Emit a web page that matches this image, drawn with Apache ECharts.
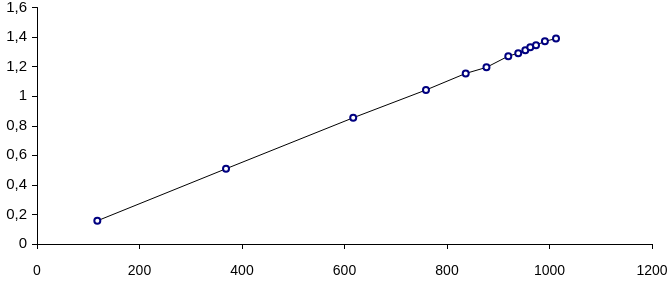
<!DOCTYPE html>
<html>
<head>
<meta charset="utf-8">
<script src="https://cdn.jsdelivr.net/npm/echarts@6/dist/echarts.min.js"></script>
<style>html,body{margin:0;padding:0;background:#fff;}#c{width:671px;height:285px;}</style>
</head>
<body>
<div id="c"></div>
<script>
const xValues = [117.7, 368.8, 617, 759, 836.5, 877, 919.6, 939, 952.8, 962.5, 973.7, 991, 1012.7];
const yValues = [0.157, 0.509, 0.854, 1.042, 1.154, 1.195, 1.271, 1.291, 1.311, 1.331, 1.345, 1.371, 1.390];
const xTicks = [0, 200, 400, 600, 800, 1000, 1200];
const yTicks = [0, 0.2, 0.4, 0.6, 0.8, 1, 1.2, 1.4, 1.6];

const data = xValues.map((x, i) => [x, yValues[i]]);
const chart = echarts.init(document.getElementById('c'), null, {renderer: 'canvas'});
const font = 'Liberation Sans';
chart.setOption({
  animation: false,
  backgroundColor: '#ffffff',
  grid: {left: 37, right: 19, top: 6, bottom: 41, containLabel: false},
  xAxis: {
    type: 'value', min: xTicks[0], max: xTicks[xTicks.length - 1], interval: 200,
    axisLine: {show: true, onZero: false, lineStyle: {color: '#000', width: 1}},
    axisTick: {show: true, length: 5, lineStyle: {color: '#000'}},
    splitLine: {show: false},
    axisLabel: {color: '#000', fontFamily: font, fontSize: 14, margin: 20,
      formatter: v => String(v)}
  },
  yAxis: {
    type: 'value', min: yTicks[0], max: yTicks[yTicks.length - 1], interval: 0.2,
    axisLine: {show: true, onZero: false, lineStyle: {color: '#000', width: 1}},
    axisTick: {show: true, length: 5, lineStyle: {color: '#000'}},
    splitLine: {show: false},
    axisLabel: {color: '#000', fontFamily: font, fontSize: 15, margin: 10,
      formatter: v => String(Math.round(v * 10) / 10).replace('.', ',')}
  },
  series: [{
    type: 'line', data: data,
    symbol: 'emptyCircle', symbolSize: 6,
    lineStyle: {color: '#000', width: 1},
    itemStyle: {color: '#000080', borderColor: '#000080', borderWidth: 1}
  }]
});
</script>
</body>
</html>
